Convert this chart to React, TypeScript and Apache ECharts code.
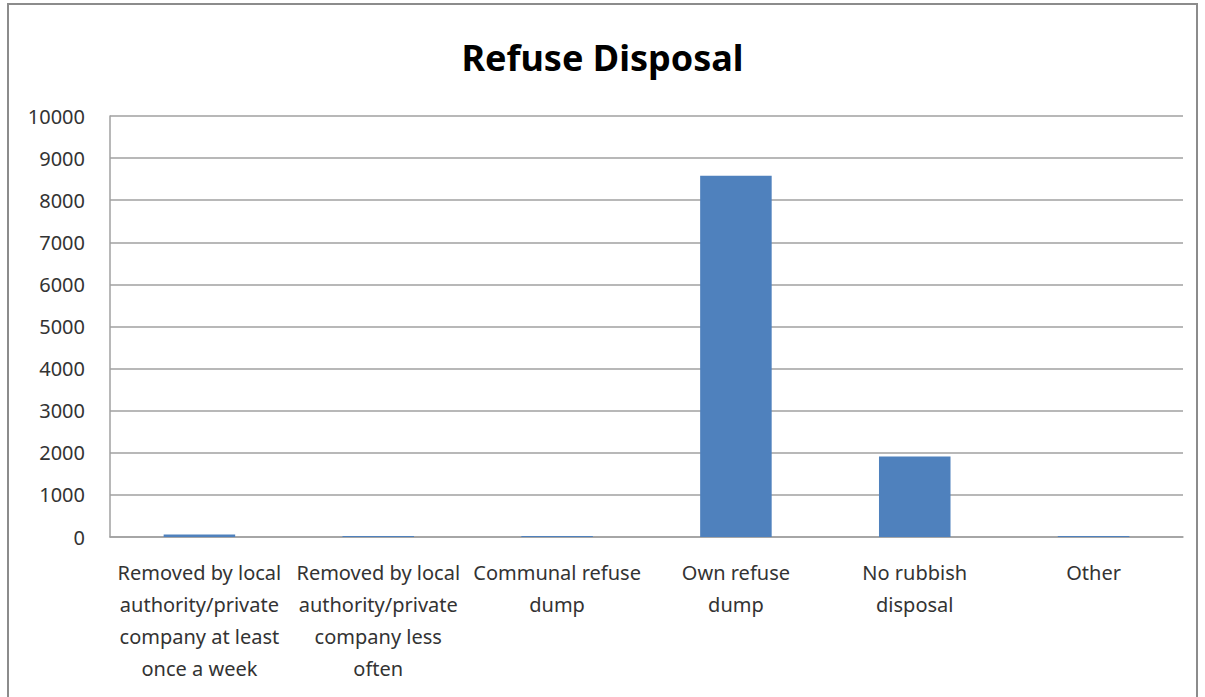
import React, { useEffect, useRef } from "react";
import * as echarts from "echarts";

const titleText = "Refuse Disposal";
const categories = [
  "Removed by local\nauthority/private\ncompany at least\nonce a week",
  "Removed by local\nauthority/private\ncompany less\noften",
  "Communal refuse\ndump",
  "Own refuse\ndump",
  "No rubbish\ndisposal",
  "Other",
];
const values = [60, 25, 25, 8580, 1910, 25];
const yMin = 0;
const yMax = 10000;
const yInterval = 1000;

export default function App() {
  const ref = useRef<HTMLDivElement>(null);
  useEffect(() => {
    if (!ref.current) return;
    const chart = echarts.init(ref.current, undefined, { renderer: "svg" });
    const font = "'Noto Sans', 'Open Sans', sans-serif";
    chart.setOption({
      animation: false,
      backgroundColor: "#ffffff",
      title: {
        text: titleText,
        left: "center",
        top: 34,
        textStyle: { fontFamily: font, fontSize: 36, fontWeight: "bold", color: "#000" },
      },
      graphic: [
        {
          type: "rect",
          shape: { x: 8, y: 4, width: 1189, height: 760 },
          style: { fill: "none", stroke: "#8c8c8c", lineWidth: 2 },
          silent: true,
        },
      ],
      grid: { left: 110, right: 22, top: 116, bottom: 160, containLabel: false },
      xAxis: {
        type: "category",
        data: categories,
        axisLine: { show: true, lineStyle: { color: "#a0a0a0", width: 1.5 } },
        axisTick: { show: false },
        axisLabel: {
          interval: 0,
          margin: 19,
          fontFamily: font,
          fontSize: 20,
          lineHeight: 32,
          color: "#333",
          align: "center",
        },
      },
      yAxis: {
        type: "value",
        min: yMin,
        max: yMax,
        interval: yInterval,
        axisLine: { show: true, lineStyle: { color: "#a0a0a0", width: 1.5 } },
        axisTick: { show: false },
        splitLine: { show: true, lineStyle: { color: "#a0a0a0", width: 1.5 } },
        axisLabel: {
          margin: 25,
          fontFamily: font,
          fontSize: 20,
          color: "#333",
          formatter: (v: number) => String(v),
        },
      },
      series: [
        {
          type: "bar",
          data: values,
          barWidth: "40%",
          itemStyle: { color: "#4F81BD" },
        },
      ],
    });
    return () => chart.dispose();
  }, []);
  return (
    <div
      ref={ref}
      style={{ position: "fixed", left: 0, top: 0, width: 1205, height: 697 }}
    />
  );
}
